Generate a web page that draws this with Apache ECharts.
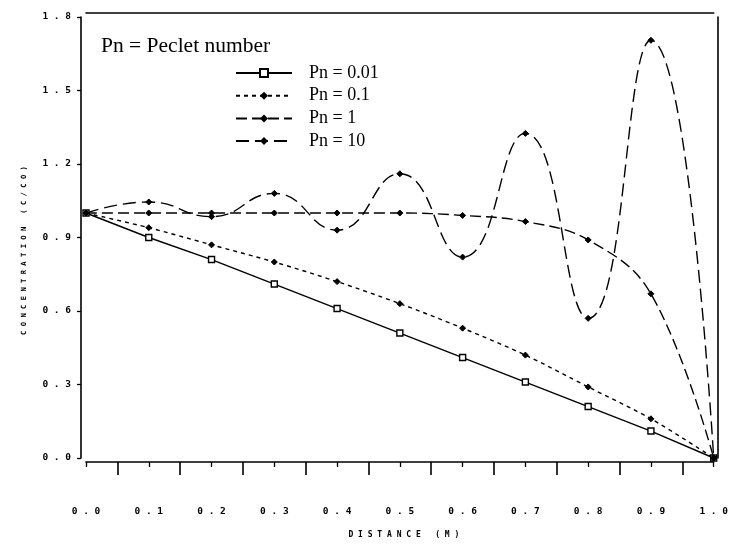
<!DOCTYPE html>
<html>
<head>
<meta charset="utf-8">
<script src="https://cdn.jsdelivr.net/npm/echarts@6/dist/echarts.min.js"></script>
<style>html,body{margin:0;padding:0;background:#fff;}#c{width:731px;height:550px;}</style>
</head>
<body>
<div id="c"></div>
<script>
// ---- data ----
const distance = [0.0, 0.1, 0.2, 0.3, 0.4, 0.5, 0.6, 0.7, 0.8, 0.9, 1.0];
const pn001 = [1.0, 0.90, 0.81, 0.71, 0.61, 0.51, 0.41, 0.31, 0.21, 0.11, 0.0];
const pn01  = [1.0, 0.94, 0.87, 0.80, 0.72, 0.63, 0.53, 0.42, 0.29, 0.16, 0.0];
const pn1   = [1.0, 1.0, 1.0, 1.0, 1.0, 1.0, 0.99, 0.965, 0.89, 0.67, 0.0];
const pn10  = [1.0, 1.045, 0.985, 1.08, 0.93, 1.16, 0.82, 1.325, 0.57, 1.705, 0.0];
const seriesNames = ['Pn = 0.01', 'Pn = 0.1', 'Pn = 1', 'Pn = 10'];
const yTicks = {min: 0, max: 1.8, interval: 0.3};
const xTicks = {min: 0, max: 1.0, interval: 0.1};
const titleText = 'Pn = Peclet number';
const xName = 'DISTANCE (M)';
const yName = 'CONCENTRATION (C/CO)';

const spaced = s => String(s).split('').join(' ');
const pairs = ys => distance.map((x, i) => [x, ys[i]]);
const monoFont = {fontFamily: 'DejaVu Sans Mono', fontWeight: 'bold', fontSize: 9.5, color: '#000'};
const black = '#000';

const chart = echarts.init(document.getElementById('c'), null, {renderer: 'canvas'});
chart.setOption({
  backgroundColor: '#fff',
  animation: false,
  title: {
    text: titleText, left: 96, top: 30,
    textStyle: {fontFamily: 'Liberation Serif', fontSize: 21.5, fontWeight: 'normal', color: black}
  },
  legend: {
    orient: 'vertical', left: 230, top: 59,
    itemWidth: 56, itemHeight: 10, itemGap: 4.7,
    data: seriesNames,
    textStyle: {fontFamily: 'Liberation Serif', fontSize: 18, color: black, lineHeight: 18, padding: [0, 0, 0, 12]}
  },
  grid: {left: 86, right: 13, top: 17, bottom: 92, containLabel: false},
  xAxis: [{
    type: 'value', position: 'bottom', offset: 4,
    min: xTicks.min, max: xTicks.max, interval: xTicks.interval,
    axisLine: {show: true, onZero: false, lineStyle: {color: black, width: 1.6}},
    axisTick: {show: true, inside: false, length: 5, lineStyle: {color: black, width: 1.3}},
    minorTick: {show: true, splitNumber: 2, length: 13, lineStyle: {color: black, width: 1.6}},
    axisLabel: Object.assign({margin: 45, formatter: v => spaced(v.toFixed(1))}, monoFont),
    splitLine: {show: false},
    name: spaced(xName), nameLocation: 'middle', nameGap: 69,
    nameTextStyle: Object.assign({}, monoFont, {fontSize: 8, padding: [0, 0, 0, 8]})
  }, {
    type: 'value', position: 'top', offset: 4,
    min: xTicks.min, max: xTicks.max, interval: xTicks.interval,
    axisLine: {show: true, onZero: false, lineStyle: {color: black, width: 1.6}},
    axisTick: {show: false}, axisLabel: {show: false}, splitLine: {show: false}
  }],
  yAxis: [{
    type: 'value', position: 'left', offset: 5,
    min: yTicks.min, max: yTicks.max, interval: yTicks.interval,
    axisLine: {show: true, onZero: false, lineStyle: {color: black, width: 1.6}},
    axisTick: {show: true, inside: false, length: 4, lineStyle: {color: black, width: 1.3}},
    axisLabel: Object.assign({margin: 10, formatter: v => spaced(v.toFixed(1))}, monoFont),
    splitLine: {show: false},
    name: spaced(yName), nameLocation: 'middle', nameGap: 53, nameRotate: 90,
    nameTextStyle: Object.assign({}, monoFont, {fontSize: 7.2, padding: [0, 26, 0, 0]})
  }, {
    type: 'value', position: 'right', offset: 4,
    min: yTicks.min, max: yTicks.max, interval: yTicks.interval,
    axisLine: {show: true, onZero: false, lineStyle: {color: black, width: 1.6}},
    axisTick: {show: false}, axisLabel: {show: false}, splitLine: {show: false}
  }],
  series: [{
    name: seriesNames[0], type: 'line', data: pairs(pn001), smooth: false,
    symbol: 'rect', symbolSize: 6,
    itemStyle: {color: '#fff', borderColor: black, borderWidth: 1.4},
    lineStyle: {color: black, width: 1.4, type: 'solid'}
  }, {
    name: seriesNames[1], type: 'line', data: pairs(pn01), smooth: 0.3,
    symbol: 'diamond', symbolSize: 6,
    itemStyle: {color: black, borderColor: black},
    lineStyle: {color: black, width: 1.4, type: [4, 4]}
  }, {
    name: seriesNames[2], type: 'line', data: pairs(pn1), smooth: 0.4,
    symbol: 'diamond', symbolSize: 6,
    itemStyle: {color: black, borderColor: black},
    lineStyle: {color: black, width: 1.4, type: [11, 5]}
  }, {
    name: seriesNames[3], type: 'line', data: pairs(pn10), smooth: 0.5,
    symbol: 'diamond', symbolSize: 6,
    itemStyle: {color: black, borderColor: black},
    lineStyle: {color: black, width: 1.4, type: [13, 6]}
  }]
});
</script>
</body>
</html>
